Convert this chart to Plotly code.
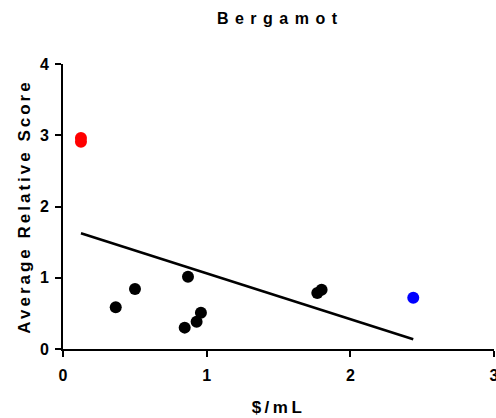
import plotly.graph_objects as go

# Data
black_x = [0.367, 0.501, 0.870, 0.847, 0.930, 0.960, 1.770, 1.800]
black_y = [0.585, 0.842, 1.015, 0.300, 0.383, 0.510, 0.786, 0.830]
red_x = [0.125, 0.125]
red_y = [2.96, 2.91]
blue_x = [2.438]
blue_y = [0.72]
fit_x = [0.125, 2.438]
fit_y = [1.624, 0.136]

FONT = "Arial, Liberation Sans, sans-serif"

fig = go.Figure()
fig.add_trace(go.Scatter(x=fit_x, y=fit_y, mode="lines",
                         line=dict(color="black", width=2.5), showlegend=False))
fig.add_trace(go.Scatter(x=black_x, y=black_y, mode="markers",
                         marker=dict(color="black", size=12), showlegend=False))
fig.add_trace(go.Scatter(x=red_x, y=red_y, mode="markers",
                         marker=dict(color="#ff0000", size=12), showlegend=False))
fig.add_trace(go.Scatter(x=blue_x, y=blue_y, mode="markers",
                         marker=dict(color="#0000ff", size=12), showlegend=False))

axis_common = dict(showgrid=False, zeroline=False, showline=True, linewidth=2,
                   linecolor="black", ticks="outside", ticklen=6, tickwidth=2,
                   tickcolor="black", ticklabeloverflow="allow", automargin=False,
                   tickfont=dict(family=FONT, size=16, color="black", weight="bold"))

fig.update_layout(
    width=496, height=418,
    margin=dict(l=63, r=2, t=64, b=69),
    paper_bgcolor="white", plot_bgcolor="white",
    title=dict(text="Bergamot", x=0.565, xanchor="center", y=0.957, yanchor="middle",
               yref="container",
               font=dict(family=FONT, size=16, color="black", weight="bold")),
    xaxis=dict(range=[0, 3], tickvals=[0, 1, 2, 3], ticktext=["0", "1", "2", "3"],
               title=dict(text="$/mL", standoff=18,
                          font=dict(family=FONT, size=17, color="black", weight="bold")),
               ticklabelstandoff=5,
               **axis_common),
    yaxis=dict(range=[0, 4], tickvals=[0, 1, 2, 3, 4], ticktext=["0", "1", "2", "3", "4"],
               title=dict(text="Average Relative Score", standoff=5,
                          font=dict(family=FONT, size=17, color="black", weight="bold")),
               ticklabelstandoff=3,
               **axis_common),
)

post = """
document.body.style.margin = '0';
document.body.style.padding = '0';
var gd = document.getElementById('{plot_id}');
function sp(){
  var t = gd.querySelector('.gtitle'); if (t) t.style.letterSpacing = '6.5px';
  var x = gd.querySelector('.xtitle'); if (x) x.style.letterSpacing = '3.5px';
  var y = gd.querySelector('.ytitle'); if (y) y.style.letterSpacing = '3px';
}
sp();
gd.on('plotly_afterplot', sp);
"""
fig.write_html("out.html", post_script=post, config={"displayModeBar": False})
